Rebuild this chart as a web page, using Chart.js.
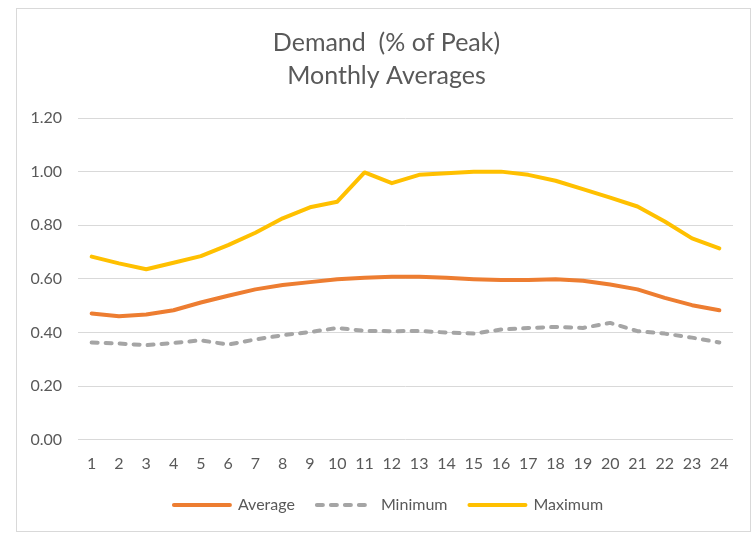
<!DOCTYPE html>
<html>
<head>
<meta charset="utf-8">
<script src="https://cdn.jsdelivr.net/npm/chart.js@4"></script>
<style>
  html, body { margin: 0; padding: 0; background: #ffffff; }
  #wrap { position: relative; width: 755px; height: 535px; }
  #frame { position: absolute; left: 16px; top: 8px; width: 735px; height: 524px; border: 1px solid #d9d9d9; box-sizing: border-box; pointer-events: none; }
  canvas { position: absolute; left: 0; top: 0; }
</style>
</head>
<body>
<div id="wrap">
  <canvas id="c" width="755" height="535"></canvas>
  <div id="frame"></div>
</div>
<script>
const titleLines = ["Demand  (% of Peak)", "Monthly Averages"];
const hours = ["1","2","3","4","5","6","7","8","9","10","11","12","13","14","15","16","17","18","19","20","21","22","23","24"];
const averageValues = [0.471,0.461,0.467,0.483,0.512,0.537,0.561,0.577,0.588,0.599,0.604,0.608,0.608,0.604,0.599,0.596,0.596,0.599,0.593,0.579,0.561,0.529,0.502,0.483];
const minimumValues = [0.363,0.359,0.353,0.361,0.371,0.355,0.374,0.390,0.402,0.417,0.406,0.405,0.406,0.400,0.396,0.411,0.417,0.421,0.417,0.436,0.405,0.396,0.381,0.363];
const maximumValues = [0.683,0.658,0.636,0.660,0.685,0.726,0.772,0.826,0.867,0.888,0.997,0.957,0.988,0.994,1.000,1.000,0.988,0.966,0.935,0.903,0.870,0.814,0.751,0.714];
const seriesNames = ["Average", "Minimum", "Maximum"];
const yTicks = [0, 0.2, 0.4, 0.6, 0.8, 1.0, 1.2];

const FONT = "Lato, 'Open Sans', sans-serif";
const TEXT = "#595959";

// Shift title/legend blocks so they are centred on the chart frame, like the original.
const blockShift = {
  id: "blockShift",
  afterUpdate(chart) {
    if (chart.titleBlock) { chart.titleBlock.left += 20; chart.titleBlock.right += 20; }
    if (chart.legend) {
      chart.legend.left += 22; chart.legend.right += 22;
      chart.legend.top -= 12; chart.legend.bottom -= 12;
    }
  }
};

new Chart(document.getElementById("c"), {
  type: "line",
  data: {
    labels: hours,
    datasets: [
      { label: seriesNames[0], data: averageValues, borderColor: "#ED7D31", backgroundColor: "#ED7D31", borderWidth: 4, pointRadius: 0, tension: 0, borderCapStyle: "round", borderJoinStyle: "round" },
      { label: seriesNames[1], data: minimumValues, borderColor: "#A5A5A5", backgroundColor: "#A5A5A5", borderWidth: 4, borderDash: [6, 8], pointRadius: 0, tension: 0, borderCapStyle: "round", borderJoinStyle: "round" },
      { label: seriesNames[2], data: maximumValues, borderColor: "#FFC000", backgroundColor: "#FFC000", borderWidth: 4, pointRadius: 0, tension: 0, borderCapStyle: "round", borderJoinStyle: "round" }
    ]
  },
  plugins: [blockShift],
  options: {
    responsive: false,
    animation: false,
    layout: { padding: { left: 0, right: 22, top: 0, bottom: 0 } },
    plugins: {
      tooltip: { enabled: false },
      title: {
        display: true,
        text: titleLines,
        color: TEXT,
        font: { family: FONT, size: 25, weight: "normal", lineHeight: 1.32 },
        padding: { top: 26, bottom: 26 }
      },
      legend: {
        position: "bottom",
        labels: {
          color: TEXT,
          font: { family: FONT, size: 16 },
          usePointStyle: true,
          pointStyle: "line",
          pointStyleWidth: 56,
          boxWidth: 56,
          boxHeight: 16,
          padding: 22,
          generateLabels: (chart) => {
            const items = Chart.defaults.plugins.legend.labels.generateLabels(chart);
            return items.map((it) => {
              const ds = chart.data.datasets[it.datasetIndex];
              it.lineDash = ds.borderDash || [];
              it.lineCap = "round";
              it.lineWidth = 4;
              it.strokeStyle = ds.borderColor;
              it.pointStyle = "line";
              return it;
            });
          }
        }
      }
    },
    scales: {
      x: {
        offset: true,
        grid: { display: false, drawTicks: false },
        border: { display: false },
        ticks: { color: TEXT, font: { family: FONT, size: 16 }, padding: 14, maxRotation: 0, autoSkip: false }
      },
      y: {
        min: 0,
        max: 1.2,
        afterFit: (s) => { s.width = 78; },
        afterBuildTicks: (s) => { s.ticks = yTicks.map(v => ({ value: v })); },
        grid: { color: "#d9d9d9", lineWidth: 1, drawTicks: false },
        border: { display: false },
        ticks: { color: TEXT, font: { family: FONT, size: 16 }, padding: 16, callback: (v) => Number(v).toFixed(2) }
      }
    }
  }
});
</script>
</body>
</html>
